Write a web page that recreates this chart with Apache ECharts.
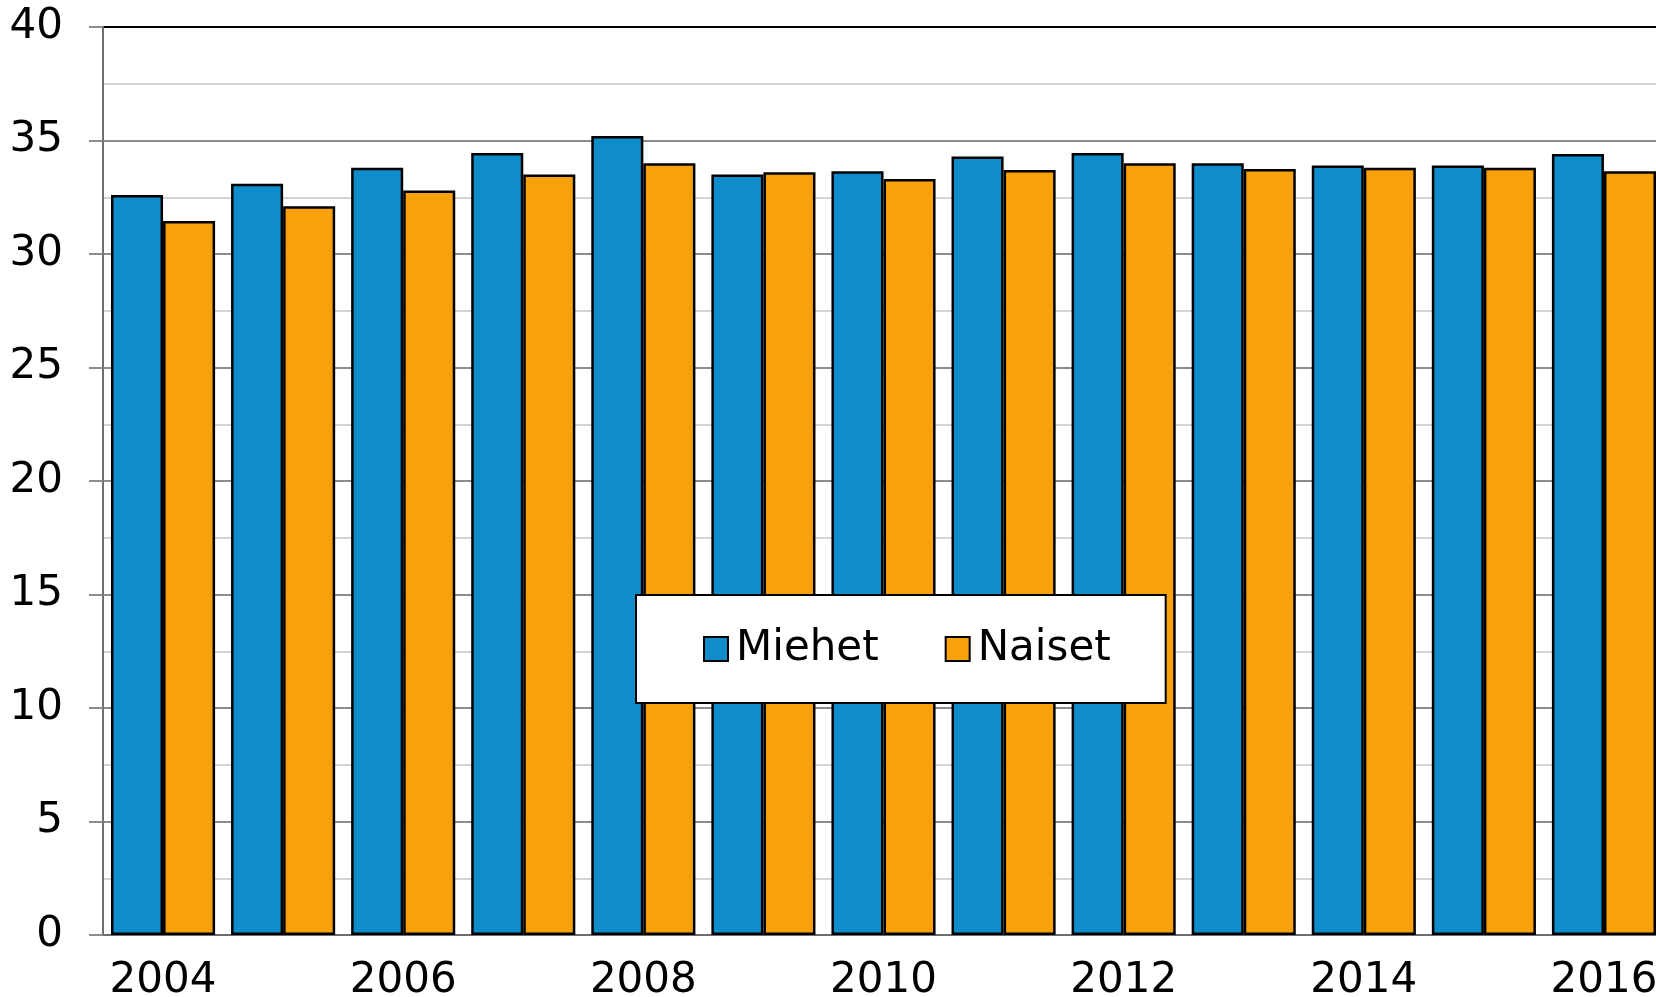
<!DOCTYPE html>
<html>
<head>
<meta charset="utf-8">
<script src="https://cdn.jsdelivr.net/npm/echarts@6/dist/echarts.min.js"></script>
<style>
	html, body { margin: 0; padding: 0; background: #fff; }
	#main { width: 1656px; height: 997px; }
</style>
</head>
<body>
<div id="main"></div>
<script>
var years = ['2004', '2005', '2006', '2007', '2008', '2009', '2010', '2011', '2012', '2013', '2014', '2015', '2016'];
var miehet = [32.6, 33.1, 33.8, 34.45, 35.2, 33.5, 33.65, 34.3, 34.45, 34.0, 33.9, 33.9, 34.4];
var naiset = [31.45, 32.1, 32.8, 33.5, 34.0, 33.6, 33.3, 33.7, 34.0, 33.75, 33.8, 33.8, 33.65];
var yTicks = [0, 5, 10, 15, 20, 25, 30, 35, 40];

var myChart = echarts.init(document.getElementById('main'));
option = {
	animation: false,
	textStyle: {
		fontFamily: 'DejaVu Sans'
	},
	legend: {
		left: 636,
		top: 595,
		padding: [33, 55, 33, 67],
		itemWidth: 24,
		itemHeight: 24,
		itemGap: 66,
		backgroundColor: '#fff',
		borderColor: '#000',
		borderWidth: 2,
		borderRadius: 0,
		icon: 'rect',
		data: ['Miehet', 'Naiset'],
		textStyle: {
			fontSize: 42,
			color: '#000',
			padding: [0, 0, 0, 3],
			fontFamily: 'DejaVu Sans'
		}
	},
	grid: {
		left: 103,
		top: 27,
		width: 1561,
		height: 908,
		outerBoundsMode: 'none',
		containLabel: false
	},
	xAxis: {
		type: 'category',
		data: years,
		axisLine: {
			lineStyle: {
				color: '#6e6e6e',
				width: 2
			}
		},
		axisTick: {
			show: false
		},
		axisLabel: {
			interval: 1,
			fontSize: 42,
			color: '#000',
			margin: 25
		}
	},
	yAxis: {
		type: 'value',
		min: yTicks[0],
		max: yTicks[yTicks.length - 1],
		interval: 5,
		axisLine: {
			show: true,
			lineStyle: {
				color: '#6e6e6e',
				width: 2
			}
		},
		axisTick: {
			show: true,
			length: 14,
			lineStyle: {
				color: '#8c8c8c',
				width: 2
			}
		},
		axisLabel: {
			fontSize: 42,
			color: '#000',
			margin: 40
		},
		splitLine: {
			lineStyle: {
				color: ['#8c8c8c', '#8c8c8c', '#8c8c8c', '#8c8c8c', '#8c8c8c', '#8c8c8c', '#8c8c8c', '#8c8c8c', '#000'],
				width: 2
			}
		},
		minorTick: {
			show: false,
			splitNumber: 2
		},
		minorSplitLine: {
			show: true,
			lineStyle: {
				color: '#d4d4d4',
				width: 2
			}
		}
	},
	series: [{
			name: 'Miehet',
			type: 'bar',
			data: miehet,
			barGap: '0%',
			barCategoryGap: '13.3%',
			itemStyle: {
				color: '#0f8dca',
				borderColor: '#000',
				borderWidth: 2.5
			}
		},
		{
			name: 'Naiset',
			type: 'bar',
			data: naiset,
			barGap: '0%',
			barCategoryGap: '13.3%',
			itemStyle: {
				color: '#f9a10a',
				borderColor: '#000',
				borderWidth: 2.5
			}
		}
	]
};
myChart.setOption(option);
</script>
</body>
</html>
